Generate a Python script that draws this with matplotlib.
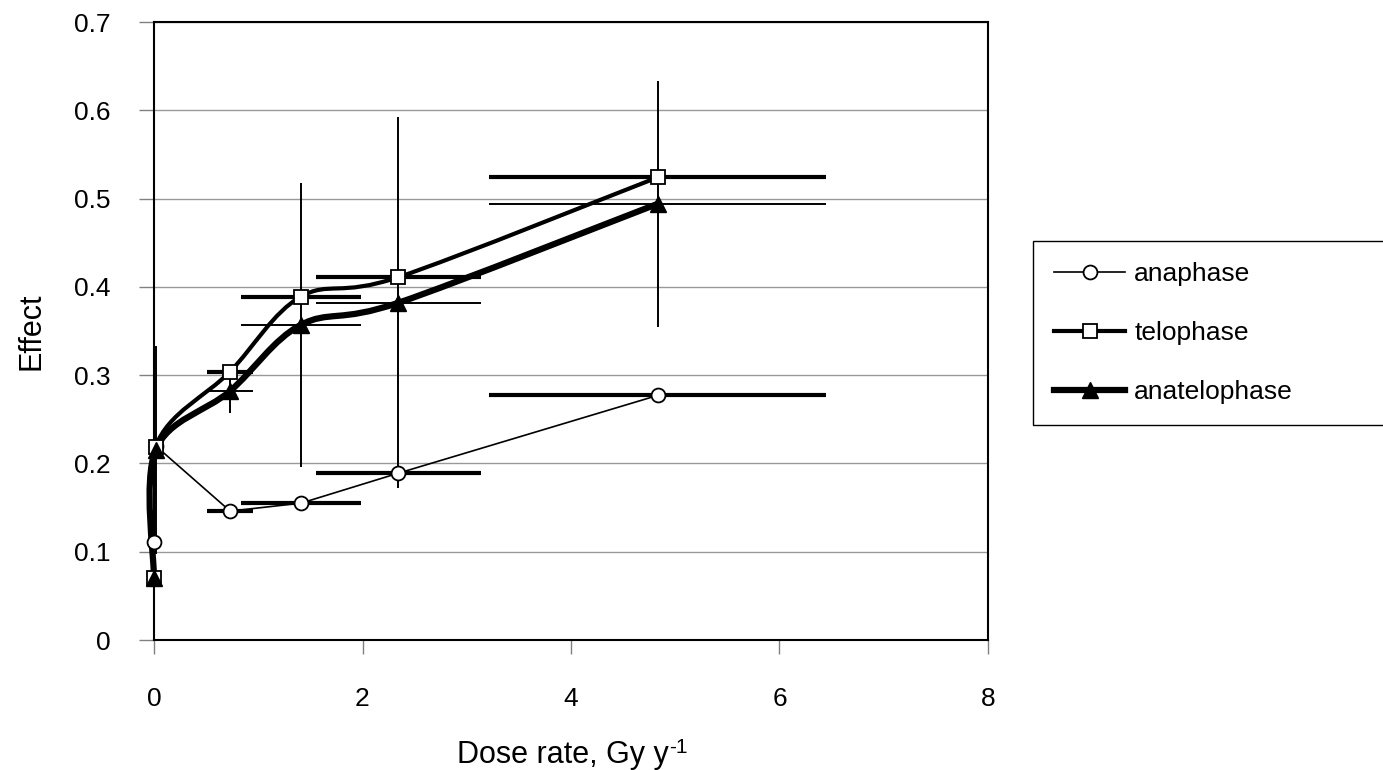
import numpy as np
import matplotlib
matplotlib.use('Agg')
import matplotlib.pyplot as plt
from matplotlib.path import Path
from matplotlib.patches import PathPatch
from matplotlib.lines import Line2D

plt.rcParams['font.family'] = ['Liberation Sans', 'DejaVu Sans']

# values
dose = [0, 0.015, 0.73, 1.41, 2.345, 4.83]
dose_err = [0, 0, 0.22, 0.575, 0.79, 1.62]
anaphase = [0.111, 0.22, 0.146, 0.155, 0.189, 0.277]
telophase = [0.07, 0.219, 0.304, 0.389, 0.411, 0.524]
anatelophase = [0.07, 0.215, 0.282, 0.357, 0.382, 0.494]
anatelophase_err = [0, 0.118, 0.025, 0.161, 0.21, 0.139]

W, H = 1383, 770
fig = plt.figure(figsize=(W / 100, H / 100), dpi=100)
ax = fig.add_axes([154 / W, 1 - 640 / H, (988 - 154) / W, (640 - 22) / H])
ax.set_xlim(0, 8)
ax.set_ylim(0, 0.7)


def smooth_path(ax, xs, ys):
    # Excel-like smoothed line: cubic bezier through points, built in pixel space
    pts = ax.transData.transform(np.column_stack([xs, ys]))
    n = len(pts)
    verts = [pts[0]]
    codes = [Path.MOVETO]
    for i in range(n - 1):
        p0 = pts[max(i - 1, 0)]
        p1 = pts[i]
        p2 = pts[i + 1]
        p3 = pts[min(i + 2, n - 1)]
        verts += [p1 + (p2 - p0) / 6, p2 - (p3 - p1) / 6, p2]
        codes += [Path.CURVE4] * 3
    verts = ax.transData.inverted().transform(np.array(verts))
    return Path(verts, codes)


# anaphase
ax.errorbar(dose, anaphase, xerr=dose_err, fmt='none', ecolor='black',
            elinewidth=3, capsize=0, zorder=3)
ax.plot(dose, anaphase, color='black', lw=1.2, zorder=4, clip_on=False)

# telophase
ax.errorbar(dose, telophase, xerr=dose_err, fmt='none', ecolor='black',
            elinewidth=3, capsize=0, zorder=3)
ax.add_patch(PathPatch(smooth_path(ax, dose, telophase), fill=False,
                       edgecolor='black', lw=3, zorder=4, clip_on=False))

# anatelophase
ax.errorbar(dose, anatelophase, xerr=dose_err, yerr=anatelophase_err,
            fmt='none', ecolor='black', elinewidth=1.4, capsize=0, zorder=3)
ax.add_patch(PathPatch(smooth_path(ax, dose, anatelophase), fill=False,
                       edgecolor='black', lw=4.5, zorder=4, clip_on=False))

ax.plot(dose, anaphase, 'o', ms=10, mfc='white', mec='black', mew=1.3,
        zorder=5, clip_on=False)
ax.plot(dose, telophase, 's', ms=10, mfc='white', mec='black', mew=1.3,
        zorder=5, clip_on=False)
ax.plot(dose, anatelophase, '^', ms=11.5, mfc='black', mec='black',
        zorder=6, clip_on=False)

ax.set_xticks([0, 2, 4, 6, 8])
ax.set_yticks(np.arange(0, 0.71, 0.1))
ax.set_yticklabels(['0', '0.1', '0.2', '0.3', '0.4', '0.5', '0.6', '0.7'])
ax.grid(axis='y', color='#999999', lw=1)
ax.set_axisbelow(True)
ax.tick_params(axis='y', length=11, width=1, color='#808080', pad=20,
               labelsize=19)
ax.tick_params(axis='x', length=10, width=1, color='#808080', pad=24,
               labelsize=19)
for s in ax.spines.values():
    s.set_linewidth(1.5)
    s.set_color('black')

# axis titles, the superscript hangs off the end of the x title
xlab = fig.text(563 / W, 1 - 763 / H, 'Dose rate, Gy y',
                ha='center', va='baseline', fontsize=22)
ax.annotate('-1', xy=(1, 0), xycoords=xlab, xytext=(0.5, 12),
            textcoords='offset points', fontsize=15, va='baseline',
            ha='left', annotation_clip=False)
fig.text(31 / W, 1 - 331 / H, 'Effect', rotation=90, ha='center',
         va='center', fontsize=22)

handles = [
    Line2D([], [], color='black', lw=1.2, marker='o', ms=10, mfc='white',
           mec='black', mew=1.3),
    Line2D([], [], color='black', lw=3, marker='s', ms=10, mfc='white',
           mec='black', mew=1.3),
    Line2D([], [], color='black', lw=4.5, marker='^', ms=11.5, mfc='black'),
]
leg = fig.legend(handles, ['anaphase', 'telophase', 'anatelophase'],
                 loc='upper left', mode='expand',
                 bbox_to_anchor=(1033 / W, 1 - 424 / H, 0.3, 183 / H),
                 bbox_transform=fig.transFigure, borderaxespad=0,
                 fontsize=19, frameon=True, fancybox=False, shadow=False,
                 edgecolor='black', framealpha=1, handlelength=2.7,
                 handletextpad=0.34, borderpad=0.8, labelspacing=1.32,
                 numpoints=1)
leg.get_frame().set_linewidth(1)

fig.savefig('out.png', dpi=100)
